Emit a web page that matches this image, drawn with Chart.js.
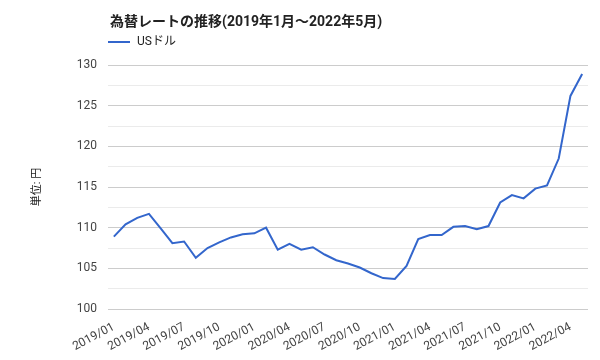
<!DOCTYPE html>
<html>
<head>
<meta charset="utf-8">
<script src="https://cdn.jsdelivr.net/npm/chart.js@4"></script>
<style>
  html, body { margin: 0; padding: 0; background: #fff; }
  #wrap { width: 600px; height: 360px; }
</style>
</head>
<body>
<div id="wrap"><canvas id="chart" width="600" height="360"></canvas></div>
<script>
const FONT = "Roboto, 'Noto Sans CJK JP', sans-serif";

const titleText = "為替レートの推移(2019年1月～2022年5月)";
const seriesName = "USドル";
const yTitle = "単位: 円";

// 月 (2019/01 ~ 2022/05)
const months = [
  "2019/01", "2019/02", "2019/03", "2019/04", "2019/05", "2019/06",
  "2019/07", "2019/08", "2019/09", "2019/10", "2019/11", "2019/12",
  "2020/01", "2020/02", "2020/03", "2020/04", "2020/05", "2020/06",
  "2020/07", "2020/08", "2020/09", "2020/10", "2020/11", "2020/12",
  "2021/01", "2021/02", "2021/03", "2021/04", "2021/05", "2021/06",
  "2021/07", "2021/08", "2021/09", "2021/10", "2021/11", "2021/12",
  "2022/01", "2022/02", "2022/03", "2022/04", "2022/05",
];

// USドル / 円
const usdJpy = [
  108.9, 110.4, 111.2, 111.7, 109.9, 108.1,
  108.3, 106.3, 107.5, 108.2, 108.8, 109.2,
  109.3, 110.0, 107.3, 108.0, 107.3, 107.6,
  106.7, 106.0, 105.6, 105.1, 104.4, 103.8,
  103.7, 105.3, 108.6, 109.1, 109.1, 110.1,
  110.2, 109.8, 110.2, 113.1, 114.0, 113.6,
  114.8, 115.2, 118.5, 126.2, 128.9,
];

const yMin = 100;
const yMax = 130;

// タイトルと凡例をグラフ領域の左端に合わせて描く
const headerPlugin = {
  id: "header",
  afterDraw(chart) {
    const ctx = chart.ctx;
    const left = chart.chartArea.left;
    ctx.save();
    ctx.fillStyle = "#222";
    ctx.font = "bold 14px " + FONT;
    ctx.textBaseline = "middle";
    ctx.textAlign = "left";
    ctx.fillText(titleText, left + 2, 22);

    ctx.strokeStyle = "#3366cc";
    ctx.lineWidth = 2;
    ctx.beginPath();
    ctx.moveTo(left, 42);
    ctx.lineTo(left + 22, 42);
    ctx.stroke();

    ctx.font = "12px " + FONT;
    ctx.fillText(seriesName, left + 29, 42);
    ctx.restore();
  },
};

const ctx = document.getElementById("chart").getContext("2d");

new Chart(ctx, {
  type: "line",
  data: {
    labels: months,
    datasets: [
      {
        label: seriesName,
        data: usdJpy,
        borderColor: "#3366cc",
        backgroundColor: "#3366cc",
        borderWidth: 2,
        pointRadius: 0,
        tension: 0,
      },
    ],
  },
  options: {
    responsive: false,
    animation: false,
    layout: {
      padding: { top: 65, left: 31, right: 12, bottom: 0 },
    },
    scales: {
      x: {
        offset: true,
        grid: { display: false },
        border: { display: false },
        ticks: {
          autoSkip: false,
          minRotation: 28,
          maxRotation: 28,
          padding: 3,
          color: "#444",
          font: { family: FONT, size: 12 },
          callback: function (value, index) {
            return index % 3 === 0 ? months[index] : "";
          },
        },
        afterFit(scale) {
          scale.height = 51;
        },
      },
      y: {
        min: yMin,
        max: yMax,
        border: { display: false },
        grid: {
          drawTicks: false,
          color: function (c) {
            return c.tick && c.tick.value % 5 === 0 ? "#cccccc" : "#ebebeb";
          },
        },
        ticks: {
          stepSize: 2.5,
          padding: 11,
          color: "#444",
          font: { family: FONT, size: 12 },
          callback: function (value) {
            return value % 5 === 0 ? value : "";
          },
        },
        title: {
          display: true,
          text: yTitle,
          color: "#222",
          font: { family: FONT, size: 11 },
          padding: 0,
        },
        afterFit(scale) {
          scale.width = 77;
        },
      },
    },
    plugins: {
      legend: { display: false },
      title: { display: false },
      tooltip: { enabled: false },
    },
  },
  plugins: [headerPlugin],
});
</script>
</body>
</html>
